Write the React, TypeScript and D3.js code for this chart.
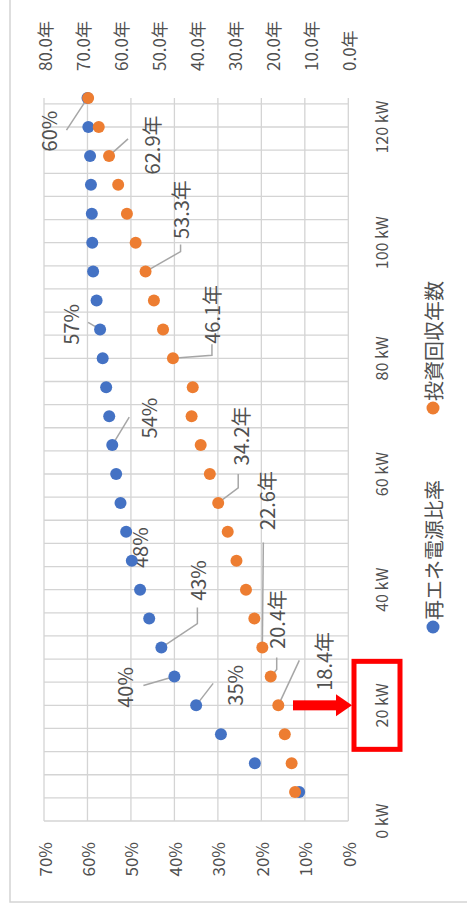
import React from "react";
import * as d3 from "d3";

const W = 467;
const H = 908;

// Installed PV capacity (kW) for each simulated case
const capacityKW = [5, 10, 15, 20, 25, 30, 35, 40, 45, 50, 55, 60, 65, 70, 75, 80, 85, 90, 95, 100, 105, 110, 115, 120, 125];
// Renewable electricity share (%)
const renewableShare = [11.3, 21.5, 29.3, 35, 40, 43, 45.8, 47.9, 49.8, 51.1, 52.4, 53.4, 54.3, 55.0, 55.7, 56.5, 57.1, 57.9, 58.7, 58.9, 59.0, 59.2, 59.4, 59.8, 60.0];
// Investment payback period (years)
const paybackYears = [14.0, 14.9, 16.7, 18.4, 20.4, 22.6, 24.7, 26.9, 29.4, 31.7, 34.2, 36.4, 38.8, 41.2, 40.9, 46.1, 48.7, 51.1, 53.3, 55.9, 58.2, 60.5, 62.9, 65.6, 68.4];

const kwTicks = [0, 20, 40, 60, 80, 100, 120];
const shareTicks = [0, 10, 20, 30, 40, 50, 60, 70];
const yearTicks = [0, 10, 20, 30, 40, 50, 60, 70, 80];
const seriesNames = ["再エネ電源比率", "投資回収年数"];
const seriesColors = ["#4472C4", "#ED7D31"];

// Data-label placement: point index, label offset (along kW, across value) and leader bends
type Lab = { i: number; du: number; dv: number; leader: number[][] };
const shareLabels: Lab[] = [
  { i: 3, du: 20, dv: 38, leader: [[22, 17]] },
  { i: 4, du: -11, dv: -50, leader: [[-9, -31]] },
  { i: 5, du: 67, dv: 36, leader: [[24, 36], [40, 36]] },
  { i: 7, du: 42, dv: -1, leader: [] },
  { i: 12, du: 27, dv: 36, leader: [[28, 17]] },
  { i: 16, du: 5, dv: -30, leader: [[7, -12]] },
  { i: 24, du: -33, dv: -39, leader: [[-32, -21]] },
];
const yearLabels: Lab[] = [
  { i: 3, du: 44, dv: 45, leader: [[45, 21]] },
  { i: 4, du: 57, dv: 6, leader: [[7, 6], [19, 6]] },
  { i: 5, du: 147, dv: 4, leader: [[105, 1]] },
  { i: 10, du: 67, dv: 22, leader: [[15, 20], [29, 20]] },
  { i: 15, du: 44, dv: 39, leader: [[3, 39], [14, 39]] },
  { i: 18, du: 62, dv: 35, leader: [[20, 35], [27, 35]] },
  { i: 22, du: 11, dv: 42, leader: [[17, 19]] },
];

const FONT = "'Noto Sans CJK JP', 'Noto Sans', sans-serif";
const TEXT = "#505050";
const GRID = "#d4d4d4";
const LEADER = "#a6a6a6";

export default function App() {
  // Chart is laid out landscape (u across, v down) and turned a quarter turn.
  const u = d3.scaleLinear().domain([0, 125]).range([87, 809.9]);
  const vShare = d3.scaleLinear().domain([0, 70]).range([348.3, 44]);
  const vYears = d3.scaleLinear().domain([0, 80]).range([348.3, 44]);
  const gridKW = d3.range(0, 125, 4);
  const r = 6;

  const fmtShare = (v: number) => `${Math.round(v)}%`;
  const fmtYears = (v: number) => `${v.toFixed(1)}年`;

  const renderLabels = (labs: Lab[], vals: number[], vs: d3.ScaleLinear<number, number>, fmt: (v: number) => string, key: string) =>
    labs.map((l) => {
      const pu = u(capacityKW[l.i]);
      const pv = vs(vals[l.i]);
      const pts = [[pu, pv], ...l.leader.map(([a, b]) => [pu + a, pv + b])];
      return (
        <g key={`${key}${l.i}`}>
          {l.leader.length > 0 && (
            <polyline points={pts.map((p) => p.join(",")).join(" ")} fill="none" stroke={LEADER} strokeWidth={1.5} />
          )}
          <text x={pu + l.du} y={pv + l.dv} textAnchor="middle" dominantBaseline="central" fontSize={20} fill={TEXT} fontFamily={FONT}>
            {fmt(vals[l.i])}
          </text>
        </g>
      );
    });

  const u20 = u(20);

  return (
    <svg width={W} height={H} style={{ position: "absolute", left: 0, top: 0, background: "#fff" }}>
      <rect x={0} y={0} width={W} height={H} fill="#fff" />
      <rect x={10} y={-5} width={470} height={907} fill="none" stroke={GRID} strokeWidth={1.5} />
      <g transform={`translate(0,${H}) rotate(-90)`}>
        {/* grid */}
        {gridKW.map((k) => (
          <line key={`gk${k}`} x1={u(k)} x2={u(k)} y1={vShare(0)} y2={vShare(70)} stroke={GRID} strokeWidth={1.3} />
        ))}
        {shareTicks.map((t) => (
          <line key={`gs${t}`} x1={u(0)} x2={u(125)} y1={vShare(t)} y2={vShare(t)} stroke={GRID} strokeWidth={1.3} />
        ))}

        {/* kW axis labels */}
        {kwTicks.map((k) => (
          <text key={`tk${k}`} x={u(k)} y={381} textAnchor="middle" dominantBaseline="central" fontSize={16} fill={TEXT} fontFamily={FONT}>
            {`${k} kW`}
          </text>
        ))}
        {/* share axis labels */}
        {shareTicks.map((t) => (
          <text key={`ts${t}`} x={66} y={vShare(t)} textAnchor="end" dominantBaseline="central" fontSize={17} fill={TEXT} fontFamily={FONT}>
            {`${t}%`}
          </text>
        ))}
        {/* payback axis labels */}
        {yearTicks.map((t) => (
          <text key={`ty${t}`} x={837} y={vYears(t)} textAnchor="start" dominantBaseline="central" fontSize={17} fill={TEXT} fontFamily={FONT}>
            {`${t.toFixed(1)}年`}
          </text>
        ))}

        {/* leaders + labels */}
        {renderLabels(shareLabels, renewableShare, vShare, fmtShare, "s")}
        {renderLabels(yearLabels, paybackYears, vYears, fmtYears, "y")}

        {/* series markers */}
        {renewableShare.map((v, i) => (
          <circle key={`b${i}`} cx={u(capacityKW[i])} cy={vShare(v)} r={r} fill={seriesColors[0]} />
        ))}
        {paybackYears.map((v, i) => (
          <circle key={`o${i}`} cx={u(capacityKW[i])} cy={vYears(v)} r={r} fill={seriesColors[1]} />
        ))}

        {/* legend */}
        {seriesNames.map((n, i) => {
          const lu = i === 0 ? 281 : 500;
          return (
            <g key={`lg${i}`}>
              <circle cx={lu} cy={433} r={6.5} fill={seriesColors[i]} />
              <text x={lu + 7} y={433} textAnchor="start" dominantBaseline="central" fontSize={20} fill={TEXT} fontFamily={FONT}>
                {n}
              </text>
            </g>
          );
        })}

        {/* highlight of the 20 kW case */}
        <rect x={u20 - 44} y={354} width={88} height={46} fill="none" stroke="#ff0000" strokeWidth={5} />
        <rect x={u20 - 5} y={293} width={10} height={44} fill="#ff0000" />
        <path d={`M${u20 - 11},336 L${u20 + 11},336 L${u20},352 Z`} fill="#ff0000" />
      </g>
    </svg>
  );
}
